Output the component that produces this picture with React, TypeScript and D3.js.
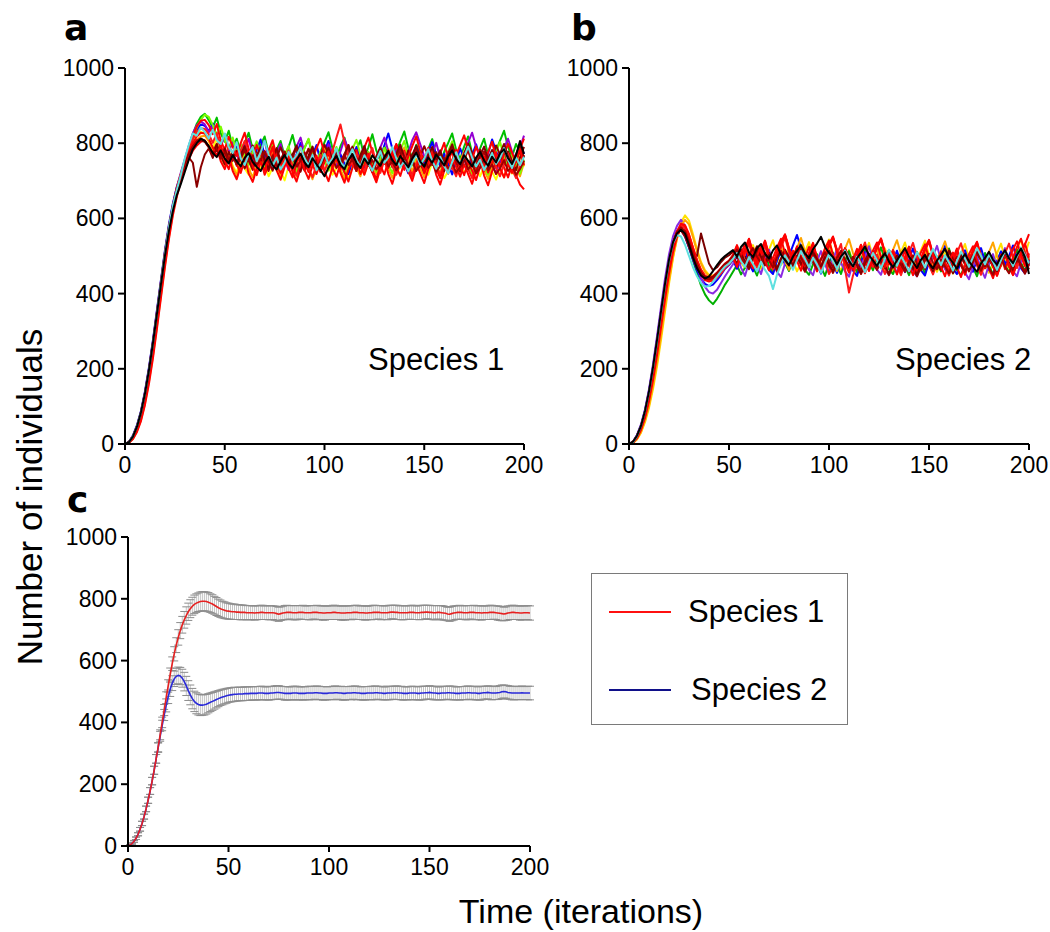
import React from "react";
import * as d3 from "d3";

const TIME_TICKS = [0, 50, 100, 150, 200];
const COUNT_TICKS = [0, 200, 400, 600, 800, 1000];
const PANEL_LETTERS = ["a", "b", "c"];
const SPECIES = ["Species 1", "Species 2"];

// Panel a: replicate runs of species 1, sampled every 2 iterations (t = 0..200)
const S1_COLORS = ["#ffff00", "#00c000", "#0000ff", "#9400d3", "#ffa500", "#7cfc00", "#ff0000", "#8b0000", "#ff0000", "#b00000", "#ff1a1a", "#800000", "#ff0000", "#a00000", "#5fe0e0", "#000000"];
const S1_RUNS: number[][] = [
  [0,5,20,46,82,132,194,266,346,428,508,578,636,684,718,752,782,806,822,830,826,806,788,812,770,748,781,739,722,757,733,716,748,771,729,744,712,735,760,726,701,738,754,719,742,768,731,709,725,752,778,740,716,733,761,729,705,744,770,736,718,749,725,700,731,757,785,748,721,737,763,729,711,742,766,734,716,750,772,738,707,726,753,781,744,720,741,768,732,712,739,757,724,703,735,762,746,719,743,770,738],
  [0,4,17,40,74,120,180,250,330,412,492,564,626,676,716,754,790,824,852,870,878,861,842,868,826,804,833,790,812,776,801,828,784,759,795,818,772,748,783,806,765,790,822,779,753,788,810,767,741,776,803,829,786,760,792,815,771,746,781,808,763,789,824,780,755,792,769,744,778,805,831,787,762,796,773,749,784,811,766,742,777,801,826,782,758,791,818,774,749,786,812,769,745,780,807,833,790,764,798,775,751],
  [0,6,23,50,88,140,204,276,356,436,514,584,640,684,716,746,780,812,836,850,846,833,852,818,797,824,781,809,788,765,799,772,746,781,810,768,740,777,751,719,756,787,744,770,801,759,733,768,795,752,778,806,763,737,771,745,718,754,790,761,736,775,748,722,760,794,826,785,755,781,747,720,758,792,764,741,776,803,768,739,772,746,717,753,786,758,731,769,797,760,735,772,810,779,750,784,756,728,764,799,771],
  [0,5,21,47,84,135,198,270,350,430,508,578,636,684,722,758,794,826,848,858,850,829,846,812,790,823,778,802,769,748,785,812,771,744,779,806,760,737,772,798,756,729,763,791,815,774,748,782,752,726,763,797,770,743,778,811,784,755,728,764,793,752,728,761,789,815,779,752,790,768,741,775,808,829,797,765,739,772,801,761,734,769,795,758,731,767,802,828,790,762,736,771,744,719,755,786,812,778,751,787,820],
  [0,3,14,34,64,108,166,234,312,394,476,550,614,664,704,738,768,792,808,818,820,806,781,799,764,742,770,737,715,748,776,733,709,741,768,727,751,780,739,714,746,773,735,711,743,770,729,704,738,765,790,752,726,757,731,706,742,771,736,712,748,775,741,717,744,770,732,708,737,763,789,750,725,758,733,709,745,772,738,713,747,776,741,718,751,779,742,714,736,764,729,705,740,767,733,709,744,771,737,712,748],
  [0,4,18,42,76,124,184,254,334,416,496,568,628,678,716,752,786,816,842,862,876,870,848,821,844,808,786,815,772,798,766,743,778,805,762,737,771,799,757,730,766,793,751,724,760,787,812,771,745,779,752,727,762,790,748,721,756,784,809,769,743,777,750,724,759,788,746,720,754,781,806,767,741,776,749,722,757,785,744,718,752,779,805,765,739,773,747,720,756,783,742,716,751,777,803,764,738,772,745,719,754],
  [0,3,13,32,61,104,160,228,306,388,470,544,608,658,698,730,758,780,794,804,808,792,770,788,752,731,765,726,704,739,761,719,697,732,758,716,741,770,728,703,737,764,722,698,734,760,785,744,718,751,725,699,736,763,721,695,730,757,782,741,716,748,722,696,733,759,718,692,729,755,780,739,713,746,720,694,731,758,716,690,727,754,778,737,711,744,718,692,729,756,714,688,725,752,776,735,709,742,716,690,677],
  [0,5,20,45,80,130,192,264,344,424,502,572,630,672,706,738,762,748,684,736,770,786,761,792,768,744,777,753,780,758,733,767,794,770,745,778,752,727,761,789,764,739,772,748,724,758,785,760,735,769,796,771,746,780,755,730,764,791,766,741,775,750,725,759,787,762,737,771,797,772,747,781,756,731,765,792,767,742,776,751,726,760,788,763,738,772,799,774,749,783,758,733,767,794,769,744,778,753,728,762,790],
  [0,4,16,38,70,116,176,246,326,408,488,560,622,672,712,750,786,818,844,860,862,848,824,851,806,783,817,791,766,800,828,784,759,795,770,746,781,808,764,740,776,752,727,763,791,748,723,759,786,812,772,747,782,756,731,767,795,751,726,762,789,815,775,750,785,759,734,770,798,754,729,765,792,818,778,753,788,762,737,773,801,757,732,768,795,821,781,756,791,765,740,776,804,760,735,771,798,774,749,785,812],
  [0,5,20,46,82,132,194,266,346,426,504,574,632,680,716,748,776,796,808,812,806,790,768,794,759,782,748,773,740,764,789,753,729,761,785,750,726,758,783,747,772,738,763,788,752,727,760,784,749,724,757,781,746,771,737,762,787,751,726,759,783,748,723,756,780,745,770,736,761,786,750,725,758,782,747,722,755,779,744,769,735,760,785,749,724,757,781,746,721,754,778,743,768,734,759,784,748,723,756,780,762],
  [0,4,18,42,76,124,186,256,336,418,498,570,632,680,718,752,786,812,830,840,838,824,801,827,785,762,794,771,746,779,806,763,739,772,748,725,759,786,744,720,753,780,738,714,748,775,733,709,743,769,727,751,779,815,850,802,766,741,774,750,726,760,787,745,721,755,782,740,716,750,777,735,711,745,772,730,755,783,741,717,751,778,736,712,746,773,731,707,741,768,726,750,778,736,712,746,773,731,707,742,769],
  [0,5,21,48,86,137,200,272,352,432,510,578,634,678,712,742,770,790,802,808,804,791,773,798,764,786,752,777,745,769,792,758,735,766,789,756,732,763,787,753,778,744,769,794,760,736,767,791,757,733,764,788,754,779,745,770,795,761,737,768,792,758,734,765,789,755,780,746,771,796,762,738,769,793,759,735,766,790,756,781,747,772,797,763,739,770,794,760,736,767,791,757,782,748,773,798,764,740,771,795,761],
  [0,4,17,40,73,120,180,250,330,412,492,562,622,670,708,742,774,800,818,828,826,812,789,766,798,754,731,768,744,721,757,783,739,715,751,727,762,790,746,722,758,734,709,745,772,729,705,741,767,724,750,778,735,711,747,723,698,734,761,718,744,772,729,705,741,717,753,780,737,713,749,725,700,736,763,720,746,774,731,707,743,719,755,782,739,715,751,727,702,738,765,722,748,776,733,709,745,721,757,784,741],
  [0,5,19,44,80,128,190,262,342,422,500,570,628,676,712,744,772,792,804,810,804,789,770,782,760,776,751,768,744,759,781,753,768,742,757,779,750,765,740,755,777,748,763,738,753,775,746,761,736,751,773,744,759,734,749,771,742,757,732,747,769,740,755,730,745,767,738,753,728,743,765,736,751,726,741,763,734,749,724,739,761,732,747,722,737,759,730,745,720,735,757,728,743,718,733,755,726,741,716,731,753],
  [0,5,21,47,84,134,196,268,348,428,506,576,634,676,716,760,796,826,820,842,830,812,836,808,798,826,790,774,803,760,742,771,790,752,776,806,770,740,762,730,748,777,754,768,788,760,741,769,728,746,772,744,760,786,750,735,762,784,755,738,768,746,727,754,779,748,762,790,760,736,752,725,748,771,743,759,784,753,732,764,739,720,750,776,748,764,791,762,738,756,729,748,774,745,760,787,756,734,762,742,764],
  [0,5,20,46,84,134,196,268,346,424,500,566,620,662,692,724,756,784,800,812,806,792,774,763,781,759,746,768,752,738,761,774,750,737,726,748,764,741,730,752,769,747,733,756,772,749,736,760,744,729,712,735,751,766,742,731,755,771,748,734,759,744,768,753,740,763,779,755,742,766,750,736,759,775,751,738,762,748,770,756,741,765,781,758,744,768,753,738,762,777,754,740,764,749,773,784,760,745,768,806,772],
];

// Panel b: replicate runs of species 2, sampled every 2 iterations (t = 0..200)
const S2_COLORS = ["#ffe000", "#00b000", "#0000ff", "#8a2be2", "#ffa500", "#ff0000", "#7a0000", "#ff0000", "#a00000", "#ff1a1a", "#ff0000", "#800000", "#ff0000", "#a00000", "#5fe0e0", "#000000"];
const S2_RUNS: number[][] = [
  [0,3,12,30,58,96,146,206,276,352,426,494,548,590,608,594,558,518,484,462,450,448,454,464,474,482,497,521,482,468,503,529,491,466,488,517,542,502,476,493,521,487,459,482,511,537,497,470,490,518,544,505,478,461,489,516,483,456,480,509,535,496,469,492,520,486,458,481,510,536,497,470,488,515,541,502,475,458,486,513,480,453,477,506,532,493,466,489,517,483,455,478,507,533,494,467,490,518,544,505,538],
  [0,5,19,44,80,128,188,258,334,410,476,528,562,572,556,524,488,454,422,398,382,372,386,404,424,440,458,476,451,469,497,472,448,483,508,474,455,489,516,481,460,494,521,486,463,450,478,505,471,447,482,509,475,452,486,513,478,457,491,518,484,462,496,523,488,465,452,480,507,473,449,484,511,477,454,488,515,480,459,493,520,485,462,449,477,504,470,446,481,508,474,451,485,512,477,456,490,517,482,460,494],
  [0,6,23,50,90,142,206,278,354,428,492,540,566,570,552,522,490,462,440,426,420,424,436,450,466,476,489,466,492,518,480,459,497,524,487,463,452,488,515,476,500,528,556,521,493,468,501,477,453,486,512,478,455,491,519,484,461,447,483,510,475,498,526,489,464,451,487,514,479,457,492,520,485,462,448,484,511,476,499,527,490,466,452,488,515,480,458,493,521,486,463,449,485,512,477,500,528,491,467,454,490],
  [0,6,24,52,92,146,212,286,364,440,504,552,580,596,580,546,508,472,442,418,404,400,410,428,446,462,478,501,469,447,484,512,476,452,489,517,481,458,444,480,508,472,497,524,487,463,449,486,513,477,454,491,518,482,459,445,482,509,473,498,526,488,464,450,487,514,478,455,492,519,483,460,446,483,510,474,499,527,489,465,451,488,515,479,456,438,472,500,466,442,478,505,469,494,521,484,460,446,483,510,474],
  [0,3,13,32,62,102,154,216,288,362,434,498,546,580,596,584,550,512,480,458,446,444,450,462,474,482,494,520,486,509,536,498,473,505,531,492,467,499,526,488,463,494,521,548,511,484,517,490,465,497,524,485,460,492,519,545,508,481,514,487,462,494,521,482,457,489,516,542,505,478,511,484,459,491,518,479,454,486,513,539,502,475,508,481,456,488,515,476,451,483,510,536,499,472,505,478,453,485,512,473,494],
  [0,4,16,38,70,114,170,236,310,384,452,510,552,576,578,556,522,488,462,444,436,438,448,462,476,486,501,527,490,518,546,508,482,515,541,503,477,510,537,556,519,492,524,497,471,505,533,494,468,501,529,550,513,486,519,492,466,500,528,489,463,496,524,545,508,481,514,487,461,495,523,484,458,491,519,541,503,476,509,482,456,490,518,479,453,486,514,536,498,471,504,477,451,485,513,474,449,481,509,531,558],
  [0,6,22,48,86,136,198,268,344,418,482,532,562,572,560,534,504,500,560,520,480,462,470,484,496,502,512,494,518,499,477,503,526,505,483,508,489,467,493,517,496,474,499,522,502,480,505,486,464,490,514,493,471,496,519,498,476,501,482,460,486,511,490,468,493,516,495,473,498,479,457,483,508,487,465,490,513,492,470,495,476,454,480,505,484,462,487,510,489,467,492,473,451,477,502,481,459,484,507,486,464],
  [0,5,20,46,84,134,196,266,342,416,482,534,566,584,576,550,516,484,460,446,442,446,456,468,480,488,503,529,491,517,545,506,480,512,539,500,474,507,534,558,521,494,526,499,473,508,535,496,470,503,531,552,515,488,521,494,468,502,530,491,465,498,526,547,510,483,516,489,463,497,525,486,460,493,521,543,505,478,511,484,458,492,520,481,455,488,516,538,500,473,506,479,453,487,515,476,450,483,511,533,495],
  [0,5,21,47,86,138,200,270,346,420,484,534,562,568,552,524,494,468,450,440,438,442,452,464,476,484,494,476,500,483,465,490,512,494,475,498,480,461,486,509,491,472,495,477,458,483,506,488,469,492,474,455,480,503,485,466,489,471,452,477,500,482,463,486,468,449,474,497,479,460,483,465,446,471,494,476,457,480,462,487,510,492,473,496,478,459,484,507,489,470,493,475,456,481,504,486,467,490,472,453,478],
  [0,4,18,42,78,126,186,256,332,408,474,528,562,580,574,548,514,482,458,442,434,434,442,454,468,478,492,518,481,506,533,495,469,501,528,490,464,496,523,549,511,484,517,490,465,498,526,487,461,494,452,471,505,532,466,403,448,482,510,536,498,471,504,477,452,485,513,474,449,481,509,535,497,470,503,476,451,484,512,473,448,480,508,534,496,469,502,475,450,483,511,472,447,479,507,533,495,468,501,474,492],
  [0,5,19,44,82,130,192,262,338,412,478,530,564,586,582,558,522,490,464,448,442,444,452,464,476,486,500,523,489,512,540,502,476,509,536,497,471,504,531,555,517,490,522,495,469,503,530,491,465,498,526,548,510,483,516,489,463,497,525,486,460,493,521,543,505,478,511,484,458,492,520,481,455,488,516,538,500,473,506,479,453,487,515,476,450,483,511,533,495,468,501,474,448,482,510,471,496,524,546,508,481],
  [0,5,20,46,84,134,196,266,340,414,480,530,560,574,566,540,508,478,456,444,440,444,454,466,478,486,498,480,505,487,468,494,517,498,478,503,485,465,491,514,495,475,500,482,462,488,511,492,472,497,479,459,485,508,489,469,494,476,456,482,505,486,466,491,473,453,479,502,483,463,488,470,450,476,499,480,460,485,467,492,515,496,476,501,483,463,489,512,493,473,498,480,460,486,509,490,470,495,477,457,483],
  [0,4,17,40,74,120,180,250,326,402,468,522,556,572,566,540,506,474,450,436,432,436,446,460,472,482,496,471,505,532,493,467,500,527,488,462,495,522,546,508,481,514,487,461,496,524,485,459,492,520,541,503,476,509,482,456,491,519,480,454,487,515,536,498,471,504,477,451,486,514,475,449,482,510,531,493,466,499,472,446,481,509,470,444,477,505,526,488,461,494,467,441,476,504,465,490,518,539,501,474,507],
  [0,5,20,46,84,134,196,268,344,418,484,534,564,576,566,538,504,474,452,440,438,442,452,466,478,486,499,517,495,478,503,521,498,481,506,488,470,496,514,491,474,500,518,495,477,502,484,466,492,510,487,470,496,514,491,473,498,480,462,488,506,483,466,492,510,487,469,494,476,458,484,502,479,462,488,506,483,465,490,472,454,480,498,475,458,484,502,479,461,486,468,450,476,494,471,454,480,498,475,457,482],
  [0,5,21,48,87,138,201,272,348,422,486,534,556,552,530,500,470,446,428,418,420,432,446,460,472,480,492,508,486,471,497,479,459,485,463,447,412,451,478,502,484,463,489,513,492,470,496,478,455,481,506,487,465,491,515,494,472,498,479,457,483,508,489,467,493,517,496,474,500,481,459,485,510,491,469,495,519,498,476,502,483,461,487,512,493,471,497,521,500,478,504,485,463,489,514,495,473,499,523,502,480],
  [0,6,22,48,88,140,204,276,352,426,490,536,560,570,560,530,496,468,448,440,446,460,476,490,500,508,516,498,524,536,509,497,521,532,506,493,515,528,503,489,476,498,514,529,507,494,518,533,551,524,508,497,478,499,511,487,472,494,509,525,502,488,474,493,507,485,470,489,505,521,498,484,468,490,503,481,467,488,503,519,496,482,466,489,505,486,471,458,480,495,511,490,477,499,515,494,481,503,520,497,452],
];

// Panel c: mean over runs at every iteration (t = 0..200) and its error (+/-)
const MEAN_S1 = [0,3,8,15,25,38,54,73,95,120,148,178,210,245,282,320,360,400,440,480,518,555,590,622,650,675,697,716,732,746,758,768,776,782,786,789,791,792,792,791,789,786,783,779,775,771,768,765,763,761,760,759,758,758,757,757,756,756,756,755,755,755,755,754,755,755,756,756,755,755,755,755,755,754,752,750,752,754,755,756,756,756,755,755,755,756,756,756,755,755,755,755,756,756,756,755,755,754,754,755,755,755,756,756,755,755,754,754,754,755,755,755,756,756,756,755,755,755,754,754,755,755,756,756,756,756,755,755,755,755,756,757,757,756,756,755,755,755,755,755,756,756,756,755,755,755,756,756,757,757,756,756,755,755,756,756,755,754,753,751,750,752,754,755,756,756,756,755,755,755,756,756,756,755,755,755,754,755,755,755,756,756,756,755,754,753,752,751,752,754,755,756,756,755,755,754,754,755,755,755,754];
const ERR_S1 = [0,1,2,3,4,5,6,7,8,9,10,11,12,13,14,15,16,17,18,19,20,21,22,23,24,25,26,27,27,28,28,29,29,30,30,30,31,31,31,31,31,30,30,29,29,28,28,27,27,26,26,25,25,25,24,24,24,24,23,23,23,23,22,23,23,22,23,23,22,22,23,23,22,23,23,23,22,22,23,23,22,22,23,23,23,22,22,23,22,22,23,23,22,22,23,23,22,23,23,22,22,22,23,23,22,22,23,23,23,22,22,23,22,23,23,22,22,23,23,22,22,23,23,23,22,22,23,22,22,23,23,22,22,23,23,22,23,23,22,22,22,23,23,22,22,23,23,23,22,22,23,22,23,23,22,22,23,23,22,22,23,23,23,22,22,23,22,22,23,23,22,22,23,23,22,23,23,22,22,22,23,23,22,22,23,23,23,22,22,23,22,23,23,22,22,23,23,22,22,23,23];
const MEAN_S2 = [0,3,8,15,25,38,54,73,95,120,148,178,210,245,282,318,355,390,424,455,483,507,527,541,549,552,550,543,532,518,503,489,477,468,462,458,456,456,457,459,462,465,468,471,474,477,480,482,484,486,488,489,490,491,491,492,492,492,493,493,493,494,494,494,494,495,495,495,494,494,494,495,495,496,497,497,496,495,494,494,494,494,495,495,495,494,494,494,494,495,495,495,495,496,496,495,495,494,494,494,495,495,495,496,496,495,495,494,494,495,495,495,496,496,495,495,494,494,494,495,495,495,495,496,496,495,495,494,494,495,495,495,496,496,496,495,495,494,494,494,495,495,495,495,494,494,495,495,496,496,497,496,495,495,494,494,495,495,495,496,496,495,495,494,494,494,495,495,495,496,496,495,495,495,494,494,495,496,496,497,496,495,495,495,496,497,499,500,499,497,496,495,495,495,495,495,496,495,495,495,495];
const ERR_S2 = [0,1,2,3,4,5,6,7,8,9,10,11,12,13,14,15,16,17,18,21,22,23,24,25,26,27,28,29,30,31,32,32,33,33,34,34,34,33,33,32,31,30,29,28,27,26,25,25,24,24,23,23,23,23,22,22,22,22,22,22,22,22,21,22,22,21,22,22,21,21,22,22,21,22,22,22,21,21,22,22,21,21,22,22,22,21,21,22,21,21,22,22,21,21,22,22,21,22,22,21,21,21,22,22,21,21,22,22,22,21,21,22,21,22,22,21,21,22,22,21,21,22,22,22,21,21,22,21,21,22,22,21,21,22,22,21,22,22,21,21,21,22,22,21,21,22,22,22,21,21,22,21,22,22,21,21,22,22,21,21,22,22,22,21,21,22,21,21,22,22,21,21,22,22,21,22,22,21,21,21,22,22,21,21,22,22,22,21,21,22,21,22,22,21,21,22,22,21,21,22,22];
const MEAN_COLORS = ["#e62020", "#2a2ad8"];
const LEGEND_COLORS = ["#ff1010", "#10108a"];

const FONT = "'Liberation Sans', Arial, Helvetica, sans-serif";

type Box = { x0: number; x1: number; y0: number; y1: number };

function Axes({ box, letter, letterX, letterY }: { box: Box; letter: string; letterX: number; letterY: number }) {
  const x = d3.scaleLinear().domain([0, 200]).range([box.x0, box.x1]);
  const y = d3.scaleLinear().domain([0, 1000]).range([box.y0, box.y1]);
  return (
    <g>
      <text x={letterX} y={letterY} fontFamily="'DejaVu Sans', sans-serif" fontWeight={900} fontSize={36} fill="#000">{letter}</text>
      <line x1={box.x0} x2={box.x0} y1={box.y0 + 1} y2={box.y1} stroke="#000" strokeWidth={2} />
      <line x1={box.x0 - 1} x2={box.x1} y1={box.y0} y2={box.y0} stroke="#000" strokeWidth={2} />
      {COUNT_TICKS.map((v) => (
        <g key={"y" + v}>
          <line x1={box.x0 - 7} x2={box.x0} y1={y(v)} y2={y(v)} stroke="#000" strokeWidth={2} />
          <text x={box.x0 - 11} y={y(v) + 8} textAnchor="end" fontFamily={FONT} fontSize={23} fill="#000">{v}</text>
        </g>
      ))}
      {TIME_TICKS.map((v) => (
        <g key={"x" + v}>
          <line x1={x(v)} x2={x(v)} y1={box.y0} y2={box.y0 + 6} stroke="#000" strokeWidth={2} />
          <text x={x(v)} y={box.y0 + 29} textAnchor="middle" fontFamily={FONT} fontSize={23} fill="#000">{v}</text>
        </g>
      ))}
    </g>
  );
}

function RunsPanel({ box, runs, colors, label, labelX }: { box: Box; runs: number[][]; colors: string[]; label: string; labelX: number }) {
  const y = d3.scaleLinear().domain([0, 1000]).range([box.y0, box.y1]);
  return (
    <g>
      {runs.map((run, k) => {
        const x = d3.scaleLinear().domain([0, run.length - 1]).range([box.x0, box.x1]);
        const line = d3.line<number>().x((_, i) => x(i)).y((v) => y(v));
        return <path key={k} d={line(run) || ""} fill="none" stroke={colors[k]} strokeWidth={2} strokeLinejoin="round" />;
      })}
      <text x={labelX} y={370} fontFamily={FONT} fontSize={31} fill="#000">{label}</text>
    </g>
  );
}

function MeanPanel({ box }: { box: Box }) {
  const y = d3.scaleLinear().domain([0, 1000]).range([box.y0, box.y1]);
  const series = [
    { mean: MEAN_S2, err: ERR_S2, color: MEAN_COLORS[1] },
    { mean: MEAN_S1, err: ERR_S1, color: MEAN_COLORS[0] },
  ];
  return (
    <g>
      {series.map((s, k) => {
        const x = d3.scaleLinear().domain([0, s.mean.length - 1]).range([box.x0, box.x1]);
        let bars = "";
        let caps = "";
        s.mean.forEach((m, i) => {
          const e = s.err[Math.min(i, s.err.length - 1)] ?? 0;
          if (e <= 0) return;
          const cx = x(i);
          const ya = y(m + e);
          const yb = y(m - e);
          bars += `M${cx},${ya}V${yb}`;
          caps += `M${cx - 4},${ya}H${cx + 4}M${cx - 4},${yb}H${cx + 4}`;
        });
        return (
          <g key={"e" + k}>
            <path d={bars} fill="none" stroke="#c4c4c4" strokeWidth={1} />
            <path d={caps} fill="none" stroke="#8c8c8c" strokeWidth={1} />
          </g>
        );
      })}
      {series.map((s, k) => {
        const x = d3.scaleLinear().domain([0, s.mean.length - 1]).range([box.x0, box.x1]);
        const line = d3.line<number>().x((_, i) => x(i)).y((v) => y(v));
        return <path key={"m" + k} d={line(s.mean) || ""} fill="none" stroke={s.color} strokeWidth={1.6} />;
      })}
    </g>
  );
}

export default function App() {
  const A: Box = { x0: 125, x1: 524, y0: 444, y1: 68 };
  const B: Box = { x0: 629, x1: 1029, y0: 444, y1: 68 };
  const C: Box = { x0: 128, x1: 530, y0: 846, y1: 537 };
  return (
    <svg width={1050} height={932} style={{ position: "absolute", left: 0, top: 0, background: "#fff" }}>
      <rect x={0} y={0} width={1050} height={932} fill="#fff" />
      <RunsPanel box={A} runs={S1_RUNS} colors={S1_COLORS} label={SPECIES[0]} labelX={368} />
      <RunsPanel box={B} runs={S2_RUNS} colors={S2_COLORS} label={SPECIES[1]} labelX={895} />
      <MeanPanel box={C} />
      <Axes box={A} letter={PANEL_LETTERS[0]} letterX={64} letterY={40} />
      <Axes box={B} letter={PANEL_LETTERS[1]} letterX={571} letterY={40} />
      <Axes box={C} letter={PANEL_LETTERS[2]} letterX={67} letterY={512} />
      <g>
        <rect x={591.5} y={573.5} width={256} height={151} fill="#fff" stroke="#7a7a7a" strokeWidth={1} />
        {SPECIES.map((s, i) => (
          <g key={s}>
            <line x1={609} x2={671} y1={612 + i * 78} y2={612 + i * 78} stroke={LEGEND_COLORS[i]} strokeWidth={2} />
            <text x={688 + i * 3} y={622 + i * 78} fontFamily={FONT} fontSize={31} fill="#000">{s}</text>
          </g>
        ))}
      </g>
      <text transform="translate(42,497) rotate(-90)" textAnchor="middle" fontFamily={FONT} fontSize={35} fill="#000">Number of individuals</text>
      <text x={581} y={923} textAnchor="middle" fontFamily={FONT} fontSize={34} fill="#000">Time (iterations)</text>
    </svg>
  );
}
